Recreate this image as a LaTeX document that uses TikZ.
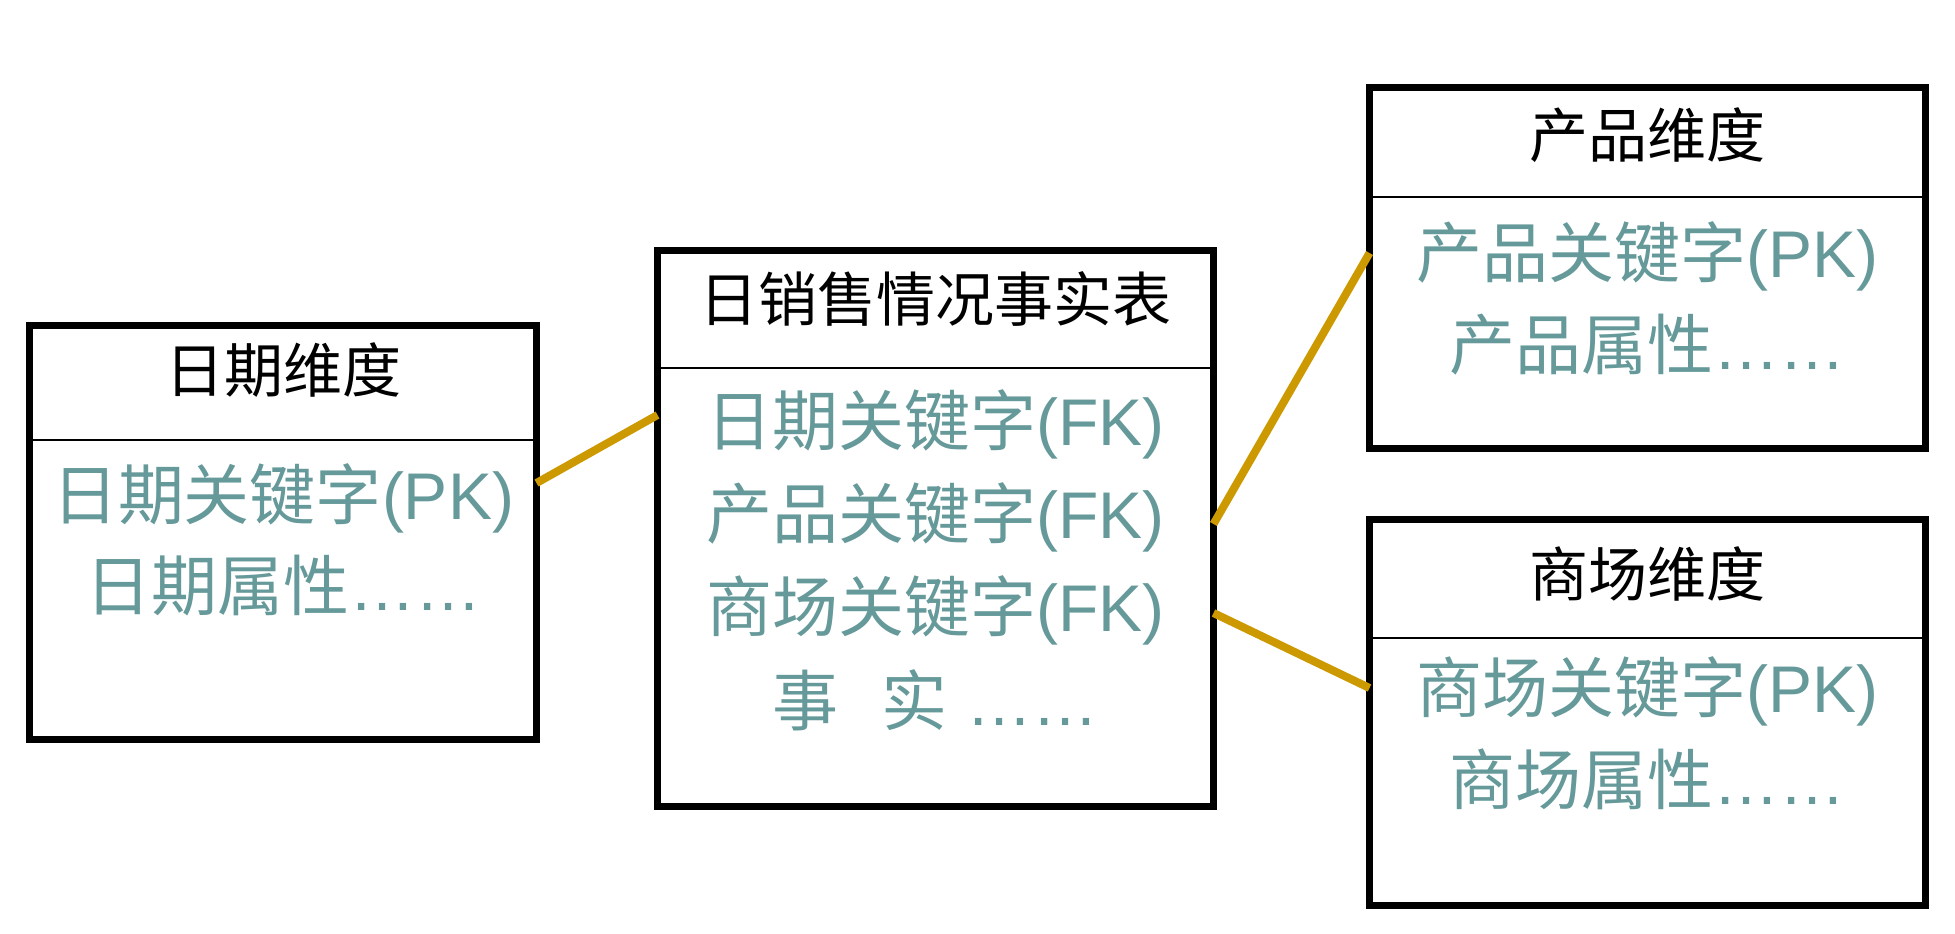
\documentclass[tikz,border=0pt]{standalone}
\usepackage{fontspec}
\setmainfont{Liberation Sans}
\newfontfamily\cjk{Noto Sans CJK SC}
\definecolor{teal}{HTML}{669999}
\definecolor{gold}{HTML}{CC9900}
\begin{document}
\begin{tikzpicture}[x=0.5pt,y=-0.5pt,
  tbox/.style={draw=black,line width=3.2pt,rectangle,inner sep=0pt,outer sep=0pt},
  divider/.style={draw=black,line width=1.1pt},
  ttl/.style={anchor=base,inner sep=0pt,text=black,font=\cjk\fontsize{29.5pt}{31pt}\selectfont},
  body/.style={anchor=base,inner sep=0pt,text=teal,font=\fontsize{33pt}{35pt}\selectfont},
  link/.style={draw=gold,line width=4pt}]
\useasboundingbox (0,0) rectangle (1955,933);
% boxes
\node[tbox,minimum width=253.5pt,minimum height=207pt] (date) at (283,532.5) {};
\node[tbox,minimum width=278pt,minimum height=278pt] (fact) at (935.5,528.5) {};
\node[tbox,minimum width=278pt,minimum height=180.5pt] (prod) at (1647.5,268) {};
\node[tbox,minimum width=278pt,minimum height=193pt] (store) at (1647.5,712.5) {};
% dividers
\draw[divider] (date.west |- 0,440) -- (date.east |- 0,440);
\draw[divider] (fact.west |- 0,368) -- (fact.east |- 0,368);
\draw[divider] (prod.west |- 0,197) -- (prod.east |- 0,197);
\draw[divider] (store.west |- 0,638) -- (store.east |- 0,638);
% titles
\node[ttl] (dateT) at (283,392) {日期维度};
\node[ttl] (factT) at (935.5,321) {日销售情况事实表};
\node[ttl] (prodT) at (1647.5,157) {产品维度};
\node[ttl] (storeT) at (1647.5,596) {商场维度};
% body texts
\node[body] (d1) at (283,519) {{\cjk 日期关键字}(PK)};
\node[body] (d2) at (283,610) {{\cjk 日期属性}……};
\node[body] (f1) at (935.5,445) {{\cjk 日期关键字}(FK)};
\node[body] (f2) at (935.5,538) {{\cjk 产品关键字}(FK)};
\node[body] (f3) at (935.5,631) {{\cjk 商场关键字}(FK)};
\node[body] (f4) at (935.5,725) {{\cjk 事}\hspace{0.65em}{\cjk 实} ……};
\node[body] (p1) at (1647.5,277) {{\cjk 产品关键字}(PK)};
\node[body] (p2) at (1647.5,369) {{\cjk 产品属性}……};
\node[body] (s1) at (1647.5,712) {{\cjk 商场关键字}(PK)};
\node[body] (s2) at (1647.5,804) {{\cjk 商场属性}……};
% connector ends
\coordinate (cd) at (date.east |- 0,483);
\coordinate (cf1) at (fact.west |- 0,415);
\coordinate (cf2) at (fact.east |- 0,524);
\coordinate (cp) at (prod.west |- 0,253);
\coordinate (cf3) at (fact.east |- 0,613);
\coordinate (cs) at (store.west |- 0,688);
\draw[link] (cd) -- (cf1);
\draw[link] (cf2) -- (cp);
\draw[link] (cf3) -- (cs);
\end{tikzpicture}
\end{document}
